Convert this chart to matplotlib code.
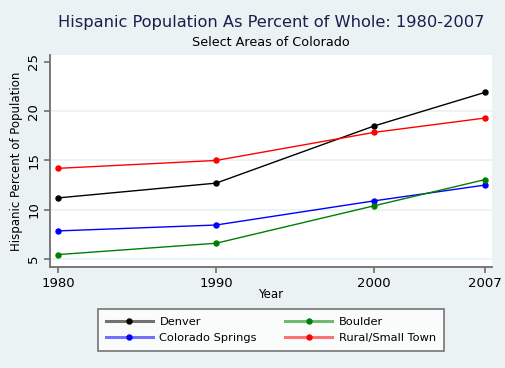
import matplotlib
matplotlib.use("Agg")
import matplotlib.pyplot as plt
from matplotlib.lines import Line2D

years = [1980, 1990, 2000, 2007]
denver = [11.2, 12.7, 18.5, 21.9]
colorado_springs = [7.85, 8.45, 10.9, 12.5]
boulder = [5.45, 6.6, 10.4, 13.05]
rural = [14.2, 15.0, 17.85, 19.3]
series_names = ["Denver", "Colorado Springs", "Boulder", "Rural/Small Town"]
series_colors = ["black", "blue", "green", "red"]
yticks = [5, 10, 15, 20, 25]

plt.rcParams['font.family'] = ['DejaVu Sans']
bg = "#eaf2f3"
W, H = 506, 368
fig = plt.figure(figsize=(W / 100, H / 100), dpi=100, facecolor=bg)
ax = fig.add_axes([50 / W, (H - 267) / H, (492 - 50) / W, (267 - 55) / H])
ax.set_facecolor("white")

all_series = [denver, colorado_springs, boulder, rural]
handles = []
for vals, name, col in zip(all_series, series_names, series_colors):
    ax.plot(years, vals, color=col, lw=1.0, marker="o", ms=3.6, zorder=3)
    ln = Line2D([], [], color=col, lw=2.2, alpha=0.55)
    mk = Line2D([], [], color=col, marker="o", ms=3.6, lw=0)
    handles.append((ln, mk))

ax.set_xlim(1979.49, 2007.46)
ax.set_ylim(4.19, 25.7)
ax.set_xticks(years)
ax.set_xticklabels([str(y) for y in years], fontsize=9.5)
ax.set_yticks(yticks)
ax.set_yticklabels([str(v) for v in yticks], fontsize=9.5, rotation=90, va="center")
for v in yticks[:-1]:
    ax.axhline(v, color="#eaf2f3", lw=1.2, zorder=1)

for s in ["top", "right"]:
    ax.spines[s].set_visible(False)
for s in ["left", "bottom"]:
    ax.spines[s].set_color("#6e6e6e")
    ax.spines[s].set_linewidth(1.3)
ax.tick_params(axis="both", color="#6e6e6e", length=4, width=1.2, pad=3)

ax.set_xlabel("Year", fontsize=8.5, labelpad=-1)
ax.set_ylabel("Hispanic Percent of Population", fontsize=8.5, labelpad=3)

fig.text(271 / W, 1 - 22 / H, "Hispanic Population As Percent of Whole: 1980-2007",
         ha="center", va="center", fontsize=11.7, color="#1e1e4e")
fig.text(271 / W, 1 - 43 / H, "Select Areas of Colorado",
         ha="center", va="center", fontsize=9.2, color="black")

leg = fig.legend(handles, series_names, ncol=2, loc="center",
                 bbox_to_anchor=(271 / W, 1 - 330 / H), fontsize=8.2,
                 frameon=True, fancybox=False, edgecolor="#555555",
                 handlelength=4.1, columnspacing=2.5, labelspacing=0.5,
                 borderpad=0.7, handletextpad=0.6)
leg.get_frame().set_linewidth(1.2)
leg.get_frame().set_facecolor("white")

fig.savefig("out.png", dpi=100, facecolor=bg)
